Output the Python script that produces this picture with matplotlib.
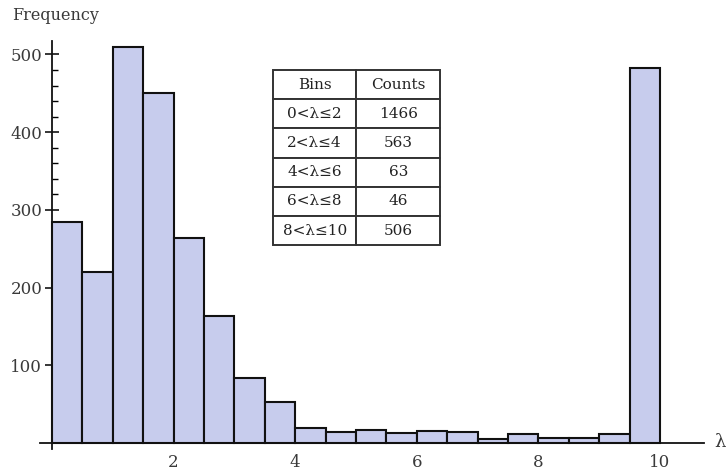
import matplotlib
matplotlib.use("Agg")
import matplotlib.pyplot as plt
import numpy as np

# histogram of lambda, 20 bins of width 0.5 on [0, 10]
bin_edges = np.arange(0, 10.01, 0.5)
counts = [285, 220, 510, 451, 264, 163, 83, 53, 19, 14,
          17, 13, 16, 14, 5, 11, 6, 6, 12, 482]

table_header = ["Bins", "Counts"]
table_bins = ["0<λ≤2", "2<λ≤4", "4<λ≤6", "6<λ≤8", "8<λ≤10"]
table_counts = ["1466", "563", "63", "46", "506"]

y_ticks = [100, 200, 300, 400, 500]
x_ticks = [2, 4, 6, 8, 10]

serif = ["DejaVu Serif", "Liberation Serif"]
plt.rcParams["font.family"] = serif
txt_col = "#3a3a3a"

W, H = 727, 471
fig = plt.figure(figsize=(W / 100, H / 100), dpi=100)

# pixel layout of the plot area
xl, xr = -0.2, 10.72
yb, yt = -8, 518
px_x, px_y = 60.8, 0.777
ax_left, ax_top = 39.8, 40.5
ax_w = (xr - xl) * px_x
ax_h = (yt - yb) * px_y
ax = fig.add_axes([ax_left / W, 1 - (ax_top + ax_h) / H, ax_w / W, ax_h / H])

ax.bar(bin_edges[:-1], counts, width=0.5, align="edge",
       color="#c7cced", edgecolor="#111111", linewidth=1.5, zorder=2)

ax.set_xlim(xl, xr)
ax.set_ylim(yb, yt)
for s in ["top", "right"]:
    ax.spines[s].set_visible(False)
ax.spines["left"].set_position(("data", 0))
ax.spines["bottom"].set_position(("data", 0))
for s in ["left", "bottom"]:
    ax.spines[s].set_linewidth(1.3)
    ax.spines[s].set_color("#111111")
    ax.spines[s].set_zorder(3)

ax.set_yticks(y_ticks)
ax.set_yticks(np.arange(20, 520, 20), minor=True)
ax.set_xticks(x_ticks)
ax.tick_params(axis="y", which="major", direction="inout", length=10, width=1.1,
               labelsize=12, labelcolor=txt_col, pad=2)
ax.tick_params(axis="y", which="minor", direction="in", length=4, width=1.0)
ax.tick_params(axis="x", which="major", direction="in", length=0,
               labelsize=12, labelcolor=txt_col, pad=8)

fig.text(12 / W, 1 - 15 / H, "Frequency", fontsize=11.5, color=txt_col,
         ha="left", va="center")
fig.text(714 / W, 1 - 442 / H, "λ", fontsize=13, color=txt_col,
         ha="left", va="center")

cells = [[b, c] for b, c in zip(table_bins, table_counts)]
tab = ax.table(cellText=cells, colLabels=table_header, cellLoc="center",
               bbox=[0.351, 0.499, 0.252, 0.429], zorder=5)
tab.auto_set_font_size(False)
for (r, c), cell in tab.get_celld().items():
    cell.set_edgecolor("#333333")
    cell.set_linewidth(1.4)
    cell.set_facecolor("white")
    cell.get_text().set_fontsize(11)
    cell.get_text().set_color("#222222")
    cell.get_text().set_fontfamily(serif)

fig.savefig("out.png", dpi=100)
